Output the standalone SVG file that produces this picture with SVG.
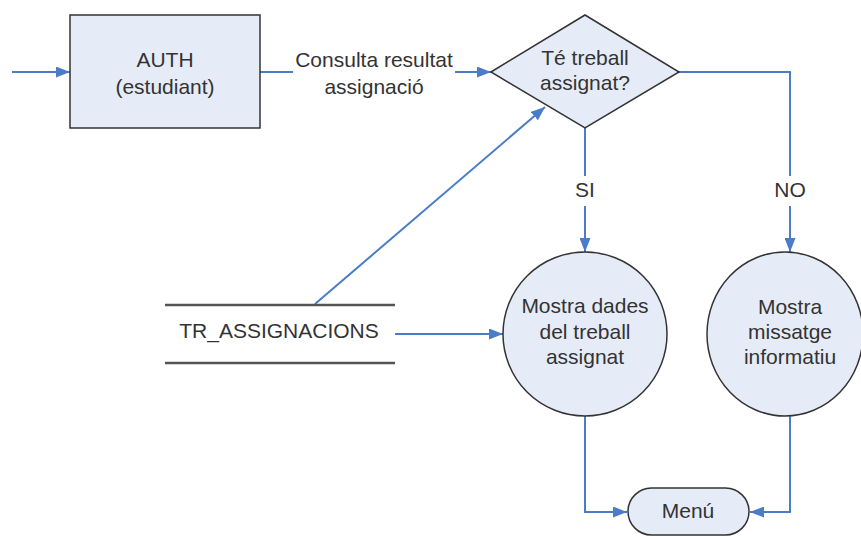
<svg xmlns="http://www.w3.org/2000/svg" width="861" height="536" viewBox="0 0 861 536">
<style>
.node{fill:#e6ecf7;stroke:#333;stroke-width:1.5}
.store{stroke:#555;stroke-width:2.5}
.t{font-family:"Liberation Sans",Arial,sans-serif;font-size:21px;fill:#333;text-anchor:middle}
.c{fill:none;stroke:#4a7cc8;stroke-width:2}
</style>
<defs>
<marker id="ah" viewBox="0 0 14 11" refX="14" refY="5.5" markerWidth="14" markerHeight="11" markerUnits="userSpaceOnUse" orient="auto">
<path d="M0,0 L14,5.5 L0,11 Z" fill="#4a7cc8"/>
</marker>
</defs>
<rect width="861" height="536" fill="#fff"/>
<g id="connectors">
<path class="c" d="M12,72 H70" marker-end="url(#ah)"/>
<path class="c" d="M260,72 H293"/>
<path class="c" d="M455,72 H491" marker-end="url(#ah)"/>
<path class="c" d="M315,304 L545,107" marker-end="url(#ah)"/>
<path class="c" d="M585,128 V176"/>
<path class="c" d="M585,206 V252" marker-end="url(#ah)"/>
<path class="c" d="M679,72 H790 V176"/>
<path class="c" d="M790,206 V252" marker-end="url(#ah)"/>
<path class="c" d="M395,334 H503" marker-end="url(#ah)"/>
<path class="c" d="M585,416 V512 H627" marker-end="url(#ah)"/>
<path class="c" d="M790,416 V512 H750" marker-end="url(#ah)"/>
<text class="t" x="374" y="67">Consulta resultat</text>
<text class="t" x="374" y="94">assignació</text>
<text class="t" x="585" y="197">SI</text>
<text class="t" x="790" y="197">NO</text>
</g>
<g id="auth">
<rect class="node" x="70" y="15" width="190" height="113"/>
<text class="t" x="165" y="67">AUTH</text>
<text class="t" x="165" y="94">(estudiant)</text>
</g>
<g id="decision">
<polygon class="node" points="491,72 585,15 679,72 585,128"/>
<text class="t" x="585" y="65">Té treball</text>
<text class="t" x="585" y="90">assignat?</text>
</g>
<g id="store">
<line class="store" x1="165" y1="305" x2="395" y2="305"/>
<line class="store" x1="165" y1="363" x2="395" y2="363"/>
<text class="t" x="279" y="338">TR_ASSIGNACIONS</text>
</g>
<g id="mostra-dades">
<ellipse class="node" cx="585" cy="334" rx="82" ry="82"/>
<text class="t" x="585" y="313">Mostra dades</text>
<text class="t" x="585" y="339">del treball</text>
<text class="t" x="585" y="364">assignat</text>
</g>
<g id="mostra-missatge">
<ellipse class="node" cx="785" cy="334" rx="78" ry="82"/>
<text class="t" x="790" y="314">Mostra</text>
<text class="t" x="790" y="339">missatge</text>
<text class="t" x="790" y="364">informatiu</text>
</g>
<g id="menu">
<rect class="node" x="628" y="488" width="121" height="47" rx="23.5"/>
<text class="t" x="688" y="518">Menú</text>
</g>
</svg>
